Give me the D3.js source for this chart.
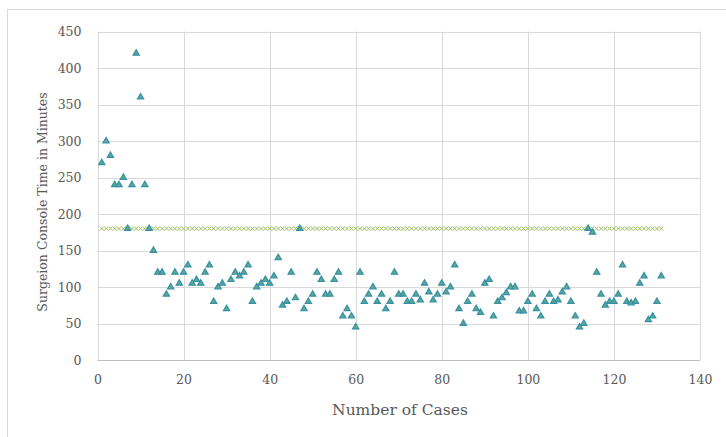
<!DOCTYPE html>
<html>
<head>
<meta charset="utf-8">
<script src="https://cdn.jsdelivr.net/npm/d3@7"></script>
<style>
  body { margin: 0; background: #fff; }
  svg text { font-family: "DejaVu Serif", serif; fill: #595959; }
</style>
</head>
<body>
<div class="visHolder"></div>
<script>
const w = 726, h = 437;

// case number -> surgeon console time (minutes)
const consoleTimes = [270, 300, 280, 240, 240, 250, 180, 240, 420, 360,
  240, 180, 150, 120, 120, 90, 100, 120, 105, 120,
  130, 105, 110, 105, 120, 130, 80, 100, 105, 70,
  110, 120, 115, 120, 130, 80, 100, 105, 110, 105,
  115, 140, 75, 80, 120, 85, 180, 70, 80, 90,
  120, 110, 90, 90, 110, 120, 60, 70, 60, 45,
  120, 80, 90, 100, 80, 90, 70, 80, 120, 90,
  90, 80, 80, 90, 82, 105, 93, 82, 90, 105,
  93, 100, 130, 70, 50, 80, 90, 70, 65, 105,
  110, 60, 80, 85, 92, 100, 100, 67, 67, 80,
  90, 70, 60, 80, 90, 80, 82, 93, 100, 80,
  60, 45, 50, 180, 175, 120, 90, 75, 80, 80,
  90, 130, 80, 78, 80, 105, 115, 55, 60, 80, 115];
const cases = consoleTimes.map((d, i) => i + 1);
const referenceTime = 180;
const xTicks = [0, 20, 40, 60, 80, 100, 120, 140];
const yTicks = [0, 50, 100, 150, 200, 250, 300, 350, 400, 450];

const svg = d3.select('.visHolder')
  .append('svg')
  .attr('width', w)
  .attr('height', h);

// outer chart frame (runs off the right / bottom edge)
svg.append('rect')
  .attr('x', 7.5).attr('y', 9.5)
  .attr('width', w + 10).attr('height', h + 10)
  .attr('fill', 'none')
  .attr('stroke', '#d9d9d9');

const xScale = d3.scaleLinear().domain([0, 140]).range([97.5, 700]);
const yScale = d3.scaleLinear().domain([0, 450]).range([360, 31.5]);

// gridlines
svg.append('g').selectAll('line')
  .data(yTicks.filter(d => d > 0))
  .enter().append('line')
  .attr('x1', xScale(0)).attr('x2', xScale(140))
  .attr('y1', d => Math.round(yScale(d)) + 0.5)
  .attr('y2', d => Math.round(yScale(d)) + 0.5)
  .attr('stroke', '#d9d9d9');

svg.append('g').selectAll('line')
  .data(xTicks)
  .enter().append('line')
  .attr('x1', d => Math.round(xScale(d)) + 0.5)
  .attr('x2', d => Math.round(xScale(d)) + 0.5)
  .attr('y1', yScale(450)).attr('y2', yScale(0))
  .attr('stroke', '#d9d9d9');

// x axis line
svg.append('line')
  .attr('x1', xScale(0)).attr('x2', xScale(140))
  .attr('y1', 360.5).attr('y2', 360.5)
  .attr('stroke', '#bfbfbf');

// tick labels
const xAxis = d3.axisBottom(xScale).tickValues(xTicks).tickSize(0).tickPadding(15);
svg.append('g')
  .attr('transform', 'translate(0, 360)')
  .call(xAxis)
  .call(g => g.select('.domain').remove())
  .selectAll('text')
  .style('font-family', '"DejaVu Serif", serif')
  .style('font-size', '12.5px')
  .attr('fill', '#595959');

const yAxis = d3.axisLeft(yScale).tickValues(yTicks).tickSize(0).tickPadding(16);
svg.append('g')
  .attr('transform', 'translate(97.5, 0)')
  .call(yAxis)
  .call(g => g.select('.domain').remove())
  .selectAll('text')
  .style('font-family', '"DejaVu Serif", serif')
  .style('font-size', '12.5px')
  .attr('fill', '#595959');

// axis titles
svg.append('text')
  .attr('x', 400).attr('y', 415)
  .attr('text-anchor', 'middle')
  .style('font-size', '15.5px')
  .text('Number of Cases');

svg.append('text')
  .attr('transform', 'translate(47, 202) rotate(-90)')
  .attr('text-anchor', 'middle')
  .style('font-size', '12.5px')
  .text('Surgeion  Console Time in Minutes');

// reference line series drawn as x markers
svg.append('g').selectAll('path')
  .data(cases)
  .enter().append('path')
  .attr('d', d => {
    const cx = xScale(d), cy = yScale(referenceTime);
    return `M${cx - 2},${cy - 2}L${cx + 2},${cy + 2}M${cx - 2},${cy + 2}L${cx + 2},${cy - 2}`;
  })
  .attr('stroke', '#9bbb59')
  .attr('stroke-width', 1)
  .attr('fill', 'none');

// console times as triangles
const tri = d3.symbol().type(d3.symbolTriangle).size(17);
svg.append('g').selectAll('path')
  .data(consoleTimes)
  .enter().append('path')
  .attr('transform', (d, i) => `translate(${xScale(cases[i])}, ${yScale(d)})`)
  .attr('d', tri)
  .attr('fill', '#5fa88e')
  .attr('stroke', '#3590a8')
  .attr('stroke-width', 1.2);
</script>
</body>
</html>
